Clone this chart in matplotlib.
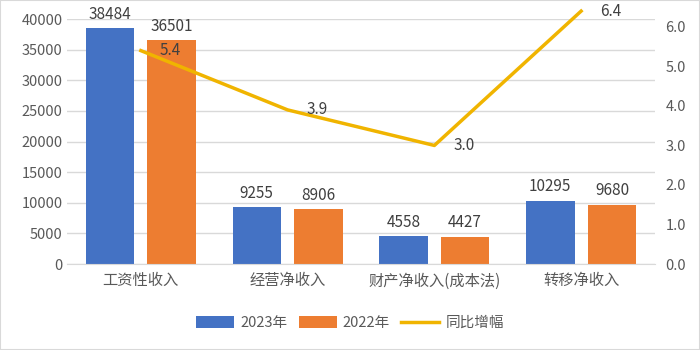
import matplotlib
matplotlib.use("Agg")
import matplotlib.pyplot as plt
import numpy as np
from matplotlib.patches import Rectangle

plt.rcParams['font.family'] = ['Noto Sans CJK SC', 'DejaVu Sans']

categories = ["工资性收入", "经营净收入", "财产净收入(成本法)", "转移净收入"]
income_2023 = [38484, 9255, 4558, 10295]
income_2022 = [36501, 8906, 4427, 9680]
growth = [5.4, 3.9, 3.0, 6.4]

blue = "#4472C4"
orange = "#ED7D31"
gold = "#F0B400"
text_gray = "#595959"
label_gray = "#404040"

fig = plt.figure(figsize=(7, 3.5), dpi=100)
ax = fig.add_axes([0.0964, 0.2457, 0.8386, 0.7])
ax2 = ax.twinx()

x = np.arange(len(categories))
w = 0.33
off = 0.21
b1 = ax.bar(x - off, income_2023, w, color=blue, zorder=2)
b2 = ax.bar(x + off, income_2022, w, color=orange, zorder=2)

for rects, vals in ((b1, income_2023), (b2, income_2022)):
    for r, v in zip(rects, vals):
        ax.text(r.get_x() + r.get_width() / 2, v + 900, f"{v}",
                ha="center", va="bottom", fontsize=11, color=label_gray)

ax.set_xlim(-0.5, len(categories) - 0.5)
ax.set_ylim(0, 40000)
ax.set_yticks(np.arange(0, 40001, 5000))
ax.yaxis.grid(True, color="#D9D9D9", linewidth=1)
ax.set_axisbelow(True)
ax.set_xticks(x)
ax.set_xticklabels(categories, fontsize=11, color=text_gray)
ax.tick_params(axis="both", length=0, labelsize=10.5, colors=text_gray)
ax.tick_params(axis="x", pad=6, labelsize=11)
for s in ("top", "left", "right"):
    ax.spines[s].set_visible(False)
ax.spines["bottom"].set_color("#D9D9D9")

line, = ax2.plot(x, growth, color=gold, linewidth=2.5, clip_on=False, zorder=3)
for xi, g in zip(x, growth):
    ax2.text(xi + 0.13, g, f"{g:.1f}", ha="left", va="center",
             fontsize=11, color=label_gray)
ax2.set_ylim(0, 6.2)
ax2.set_yticks(np.arange(0, 6.01, 1.0))
ax2.set_yticklabels([f"{t:.1f}" for t in np.arange(0, 6.01, 1.0)])
ax2.tick_params(axis="y", length=0, labelsize=10.5, colors=text_gray, pad=8)
for s in ("top", "left", "right", "bottom"):
    ax2.spines[s].set_visible(False)

fig.legend([b1, b2, line], ["2023年", "2022年", "同比增幅"],
           loc="center", bbox_to_anchor=(0.5, 0.077), ncol=3, frameon=False,
           fontsize=10.5, labelcolor=text_gray, handlelength=2.6,
           handleheight=0.9, columnspacing=0.8, handletextpad=0.4)

fig.patches.append(Rectangle((0, 0), 1, 1, transform=fig.transFigure,
                             fill=False, edgecolor="#D9D9D9", linewidth=1.5))

fig.savefig("out.png", dpi=100)
